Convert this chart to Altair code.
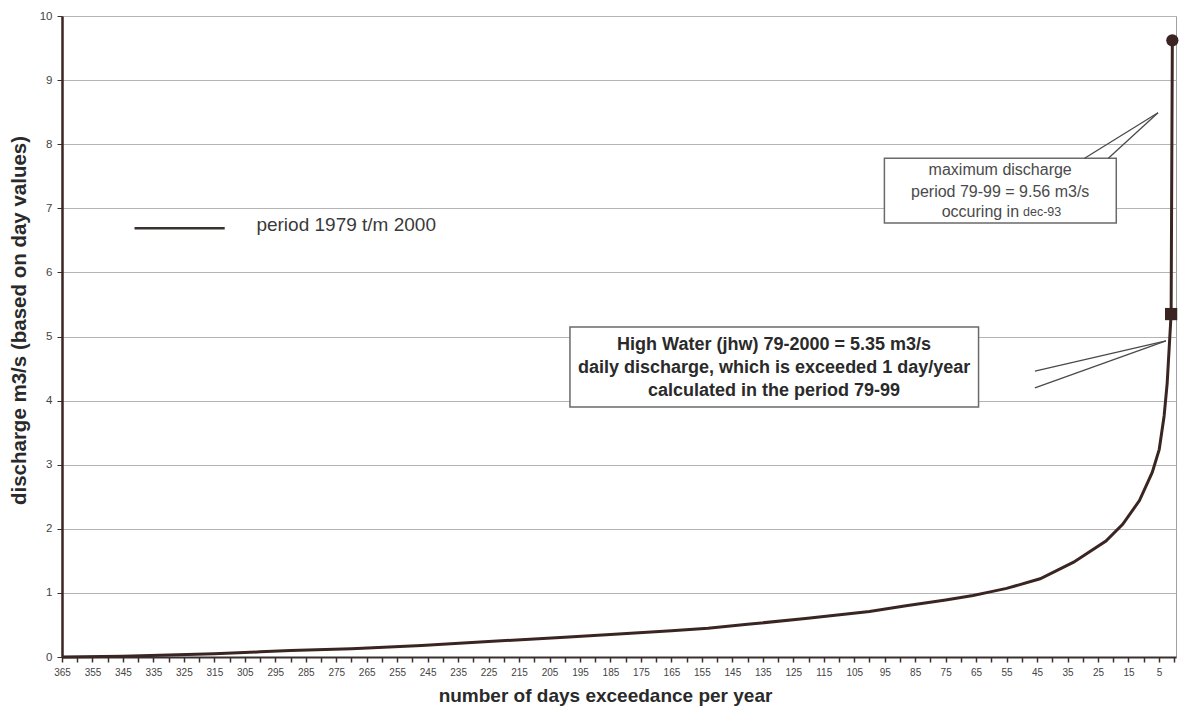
import altair as alt
import pandas as pd

# ---- data ----
days = [365, 345, 330, 315, 300, 290, 270, 247, 225, 200, 185, 165, 153, 140,
        121, 100, 88, 75, 66, 60, 55, 44, 33, 22.4, 16.9, 11.4, 7.2, 4.9, 3.3,
        2.3, 1.0, 0.6]
discharge = [0.0, 0.01, 0.03, 0.05, 0.08, 0.10, 0.13, 0.18, 0.24, 0.31, 0.35,
             0.41, 0.45, 0.51, 0.60, 0.71, 0.80, 0.89, 0.96, 1.02, 1.07, 1.22,
             1.48, 1.81, 2.07, 2.44, 2.88, 3.24, 3.76, 4.27, 5.35, 9.62]

max_day, max_value = [0.6], [9.62]
hw_day, hw_value = [1.0], [5.35]

x_ticks = list(range(365, -1, -5))
y_ticks = list(range(0, 11))

legend_label = "period 1979 t/m 2000"
legend_line_days = [341.2, 311.6]
legend_value = 6.69
legend_text_day = 301.2
legend_text_value = 6.74

box1_bounds = [95.1, 19.0, 7.78, 6.77]  # day1, day2, value1, value2
box1_lines = ["maximum discharge", "period 79-99 = 9.56 m3/s"]
box1_line_values = [7.60, 7.26]
box1_center_day = 57.1
box1_last_a = "occuring in"
box1_last_b = "dec-93"
box1_last_value = 6.94
box1_last_days = [50.9, 49.6]
box1_leaders = [(29.4, 7.78, 5.3, 8.49), (21.6, 7.78, 5.3, 8.49)]

box2_bounds = [198.3, 64.2, 5.15, 3.90]
box2_lines = ["High Water (jhw) 79-2000 = 5.35 m3/s",
              "daily discharge, which is exceeded 1 day/year",
              "calculated in the period 79-99"]
box2_line_values = [4.87, 4.51, 4.15]
box2_center_day = 131.3
box2_leaders = [(45.7, 4.46, 2.7, 4.93), (45.7, 4.20, 2.7, 4.93)]

FONT = "Liberation Sans"
CURVE = "#3a2522"

curve_df = pd.DataFrame({"day": days, "q": discharge})

xscale = alt.Scale(domain=[-0.6, 365], reverse=True, nice=False, zero=False)
yscale = alt.Scale(domain=[0, 10], nice=False, zero=True)

x_axis = alt.Axis(
    values=x_ticks,
    labelExpr="(365 - datum.value) % 10 == 0 ? datum.label : ''",
    format="d",
    grid=False, tickSize=5, tickColor="#3a3030", tickWidth=1.5,
    domainColor="#3a3030", domainWidth=2,
    labelFontSize=10, labelColor="#444444", labelFont=FONT,
    labelOverlap=False, labelFlush=False, labelPadding=5,
    title="number of days exceedance per year",
    titleFont=FONT, titleFontSize=19, titleFontWeight="bold",
    titleColor="#2a2a2a", titlePadding=9, titleX=543,
)
y_axis = alt.Axis(
    values=y_ticks, format="d", grid=True, gridColor="#b4b4b4", gridWidth=1,
    tickSize=5, tickColor="#3a3030", domainColor="#3a2522", domainWidth=2.5,
    labelFontSize=11.5, labelColor="#444444", labelFont=FONT, labelPadding=5,
    title="discharge m3/s (based on day values)",
    titleFont=FONT, titleFontSize=20.5, titleFontWeight="bold",
    titleColor="#2a2a2a", titlePadding=10, titleY=304,
)

def X(field):
    return alt.X(field, type="quantitative", scale=xscale, axis=x_axis)

def Y(field):
    return alt.Y(field, type="quantitative", scale=yscale, axis=y_axis)

curve = alt.Chart(curve_df).mark_line(color=CURVE, strokeWidth=3).encode(
    x=X("day"), y=Y("q"),
)

max_pt = alt.Chart(pd.DataFrame({"day": max_day, "q": max_value})).mark_point(
    shape="circle", filled=True, size=150, color=CURVE, opacity=1
).encode(x=X("day"), y=Y("q"))

hw_pt = alt.Chart(pd.DataFrame({"day": hw_day, "q": hw_value})).mark_point(
    shape="square", filled=True, size=150, color=CURVE, opacity=1
).encode(x=X("day"), y=Y("q"))

legend_line = alt.Chart(pd.DataFrame({
    "d1": [legend_line_days[0]], "d2": [legend_line_days[1]], "v": [legend_value]
})).mark_rule(color="#3a3030", strokeWidth=2.5).encode(
    x=X("d1"), x2="d2:Q", y=Y("v"))

legend_text = alt.Chart(pd.DataFrame({
    "d": [legend_text_day], "v": [legend_text_value], "t": [legend_label]
})).mark_text(align="left", baseline="middle", font=FONT, fontSize=19,
              color="#3a3a3a").encode(x=X("d"), y=Y("v"), text="t:N")

def box(bounds):
    return alt.Chart(pd.DataFrame({
        "d1": [bounds[0]], "d2": [bounds[1]], "v1": [bounds[2]], "v2": [bounds[3]]
    })).mark_rect(fill="white", stroke="#6a6a6a", strokeWidth=1.5).encode(
        x=X("d1"), x2="d2:Q", y=Y("v1"), y2="v2:Q")

def leaders(segs):
    df = pd.DataFrame(segs, columns=["d1", "v1", "d2", "v2"])
    return alt.Chart(df).mark_rule(color="#4a4a4a", strokeWidth=1.3).encode(
        x=X("d1"), y=Y("v1"), x2="d2:Q", y2="v2:Q")

box1_text = alt.Chart(pd.DataFrame({
    "d": [box1_center_day] * len(box1_lines), "v": box1_line_values, "t": box1_lines
})).mark_text(align="center", baseline="middle", font=FONT, fontSize=16,
              color="#4a4a4a").encode(x=X("d"), y=Y("v"), text="t:N")

box1_last1 = alt.Chart(pd.DataFrame({
    "d": [box1_last_days[0]], "v": [box1_last_value], "t": [box1_last_a]
})).mark_text(align="right", baseline="middle", font=FONT, fontSize=16,
              color="#4a4a4a").encode(x=X("d"), y=Y("v"), text="t:N")

box1_last2 = alt.Chart(pd.DataFrame({
    "d": [box1_last_days[1]], "v": [box1_last_value], "t": [box1_last_b]
})).mark_text(align="left", baseline="middle", font=FONT, fontSize=12.5,
              color="#4a4a4a").encode(x=X("d"), y=Y("v"), text="t:N")

box2_text = alt.Chart(pd.DataFrame({
    "d": [box2_center_day] * len(box2_lines), "v": box2_line_values, "t": box2_lines
})).mark_text(align="center", baseline="middle", font=FONT, fontSize=18,
              fontWeight="bold", color="#2a2a2a").encode(x=X("d"), y=Y("v"), text="t:N")

chart = alt.layer(
    curve, legend_line, legend_text,
    box(box1_bounds), leaders(box1_leaders), box1_text, box1_last1, box1_last2,
    box(box2_bounds), leaders(box2_leaders), box2_text,
    max_pt, hw_pt,
).properties(
    width=1114, height=641,
    padding={"left": 54, "top": 8, "right": 6, "bottom": 52},
    autosize=alt.AutoSizeParams(type="none"),
    background="white",
).configure_view(stroke="#a0a0a0", strokeWidth=1)

chart.save("out.html", embed_options={"renderer": "svg", "actions": False})
